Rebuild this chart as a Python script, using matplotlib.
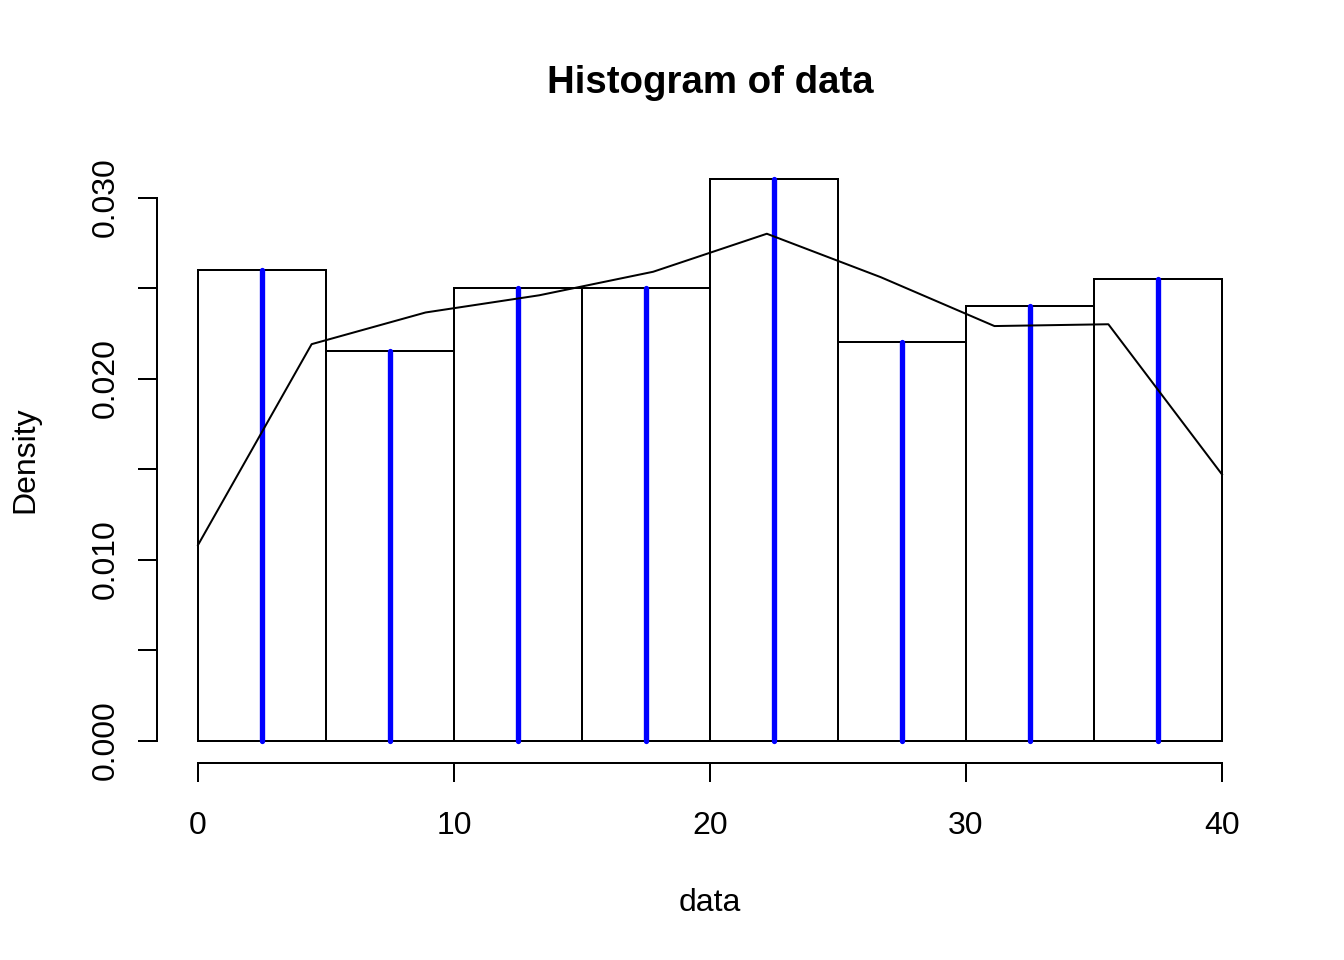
import matplotlib
matplotlib.use("Agg")
import matplotlib.pyplot as plt
import numpy as np

plt.rcParams['font.family'] = ['Liberation Sans', 'DejaVu Sans']

bin_edges = [0, 5, 10, 15, 20, 25, 30, 35, 40]
densities = [0.026, 0.0215, 0.025, 0.025, 0.031, 0.022, 0.024, 0.0255]
line_x = [0.0, 4.44, 8.89, 13.33, 17.78, 22.22, 26.67, 31.11, 35.56, 40.0]
line_y = [0.0108, 0.0219, 0.02365, 0.0246, 0.0259, 0.0280, 0.0256, 0.0229, 0.0230, 0.0147]
x_ticks = [0, 10, 20, 30, 40]
y_ticks = [0.000, 0.005, 0.010, 0.015, 0.020, 0.025, 0.030]
y_ticklabels = ["0.000", "", "0.010", "", "0.020", "", "0.030"]

W, H = 1344, 960
fig = plt.figure(figsize=(7, 5), dpi=192)
L, R, T, B = 157, 1263, 157, 763
ax = fig.add_axes([L / W, 1 - B / H, (R - L) / W, (B - T) / H])

ymax = max(densities)
ax.set_xlim(-0.04 * 40, 40 + 0.04 * 40)
ax.set_ylim(-0.04 * ymax, ymax * 1.04)

widths = np.diff(bin_edges)
lefts = np.array(bin_edges[:-1])
ax.bar(lefts, densities, width=widths, align='edge', facecolor='white',
       edgecolor='black', linewidth=0.75)
mids = lefts + widths / 2
ax.vlines(mids, 0, densities, colors=(0, 0, 1), linewidth=2.0,
          capstyle='round', zorder=3)
ax.plot(line_x, line_y, color='black', linewidth=0.75, zorder=4)

for s in ['top', 'right']:
    ax.spines[s].set_visible(False)
ax.spines['bottom'].set_bounds(0, 40)
ax.spines['left'].set_bounds(0, 0.03)
ax.spines['bottom'].set_linewidth(0.75)
ax.spines['left'].set_linewidth(0.75)

ax.set_xticks(x_ticks)
ax.set_xticklabels([str(v) for v in x_ticks], fontsize=12)
ax.set_yticks(y_ticks)
ax.set_yticklabels(y_ticklabels, fontsize=12, rotation=90, va='center')
ax.tick_params(axis='both', direction='out', length=7.2, width=0.75)
ax.tick_params(axis='x', pad=10.8)
ax.tick_params(axis='y', pad=6.3)

fig.text(710 / W, 1 - 83 / H, "Histogram of data", fontsize=14.4,
         fontweight='bold', ha='center', va='center')
fig.text(710 / W, 1 - 903 / H, "data", fontsize=12, ha='center', va='center')
fig.text(25 / W, 1 - 460 / H, "Density", fontsize=12, ha='center',
         va='center', rotation=90)

fig.savefig("out.png", dpi=192)
